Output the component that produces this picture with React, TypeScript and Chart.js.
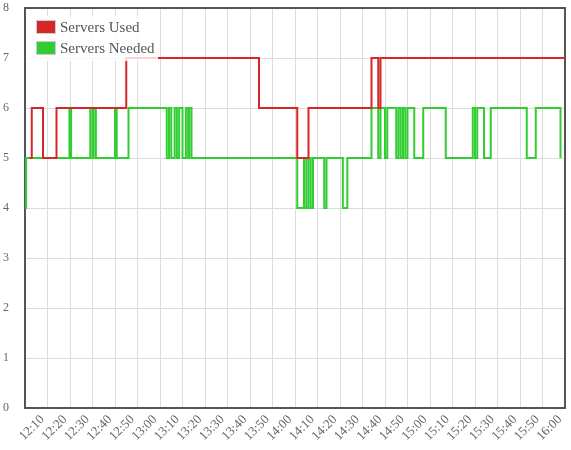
import React, { useEffect, useRef } from 'react';
import { Chart, registerables } from 'chart.js';

Chart.register(...registerables);

// Tick labels on the time axis (12:00 gridline has no label)
const xTickLabels = [
  '12:10', '12:20', '12:30', '12:40', '12:50', '13:00', '13:10', '13:20', '13:30', '13:40', '13:50', '14:00',
  '14:10', '14:20', '14:30', '14:40', '14:50', '15:00', '15:10', '15:20', '15:30', '15:40', '15:50', '16:00',
];
const yTickValues = [0, 1, 2, 3, 4, 5, 6, 7, 8];

// Servers Used: change points (time, value)
const usedTimes = ['12:02', '12:03', '12:08', '12:14', '12:45', '13:44', '14:01', '14:06', '14:34', '14:37', '14:38', '16:00'];
const usedValues = [5, 6, 5, 6, 7, 6, 5, 6, 7, 6, 7, 7];

// Servers Needed: change points (time, value)
const neededTimes = [
  '12:00', '12:00:30', '12:19:45', '12:20:30', '12:29', '12:30', '12:30:30', '12:31:30', '12:40', '12:40:45',
  '12:46', '13:03', '13:04', '13:05', '13:06:30', '13:07:30', '13:08:30', '13:10', '13:11:30', '13:12:30',
  '13:13', '13:14', '14:01', '14:04', '14:05', '14:06', '14:07', '14:08', '14:13', '14:14',
  '14:21:15', '14:23:15', '14:34', '14:37', '14:38', '14:40', '14:41', '14:45', '14:46', '14:47',
  '14:48', '14:49', '14:50', '14:53', '14:57', '15:07', '15:19', '15:20', '15:21', '15:24',
  '15:27', '15:43', '15:47', '15:58',
];
const neededValues = [
  4, 5, 6, 5, 6, 5, 6, 5, 6, 5,
  6, 5, 6, 5, 6, 5, 6, 5, 6, 5,
  6, 5, 4, 5, 4, 5, 4, 5, 4, 5,
  4, 5, 6, 5, 6, 5, 6, 5, 6, 5,
  6, 5, 6, 5, 6, 5, 6, 5, 6, 5,
  6, 5, 6, 5,
];

const seriesNames = ['Servers Used', 'Servers Needed'];
const seriesColors = ['#d62728', '#32cd32'];

const toMin = (t: string) => {
  const [h, m, s] = t.split(':').map(Number);
  return (h - 12) * 60 + m + (s || 0) / 60;
};

const FONT = '"Liberation Serif", "Times New Roman", serif';

const zeroPad = (scale: any) => {
  scale.paddingTop = 0;
  scale.paddingBottom = 0;
  scale.paddingLeft = 0;
  scale.paddingRight = 0;
};

const framePlugin = {
  id: 'frame',
  beforeDatasetsDraw(chart: any) {
    const { ctx, chartArea: a } = chart;
    ctx.save();
    ctx.strokeStyle = '#555';
    ctx.lineWidth = 2;
    ctx.strokeRect(a.left, a.top, a.right - a.left, a.bottom - a.top);
    ctx.restore();
  },
};

const legendPlugin = {
  id: 'insideLegend',
  afterDraw(chart: any) {
    const { ctx, chartArea: a } = chart;
    ctx.save();
    ctx.fillStyle = 'rgba(255,255,255,0.8)';
    ctx.fillRect(a.left + 1, a.top + 8, 132, 45);
    ctx.font = `15px ${FONT}`;
    ctx.textBaseline = 'middle';
    chart.data.datasets.forEach((ds: any, i: number) => {
      const y = a.top + 13 + i * 21;
      ctx.strokeStyle = '#ccc';
      ctx.lineWidth = 1;
      ctx.strokeRect(a.left + 11.5, y - 0.5, 19, 13);
      ctx.fillStyle = ds.borderColor;
      ctx.fillRect(a.left + 12, y, 18, 12);
      ctx.fillStyle = '#555';
      ctx.fillText(ds.label, a.left + 35, y + 7);
    });
    ctx.restore();
  },
};

export default function App() {
  const ref = useRef<HTMLCanvasElement | null>(null);
  useEffect(() => {
    if (!ref.current) return;
    const chart = new Chart(ref.current, {
      type: 'line',
      data: {
        datasets: [
          {
            label: seriesNames[0],
            data: usedTimes.map((t, i) => ({ x: toMin(t), y: usedValues[i] })),
            borderColor: seriesColors[0],
            backgroundColor: seriesColors[0],
            borderWidth: 2,
            pointRadius: 0,
            stepped: true,
            fill: false,
          },
          {
            label: seriesNames[1],
            data: neededTimes.map((t, i) => ({ x: toMin(t), y: neededValues[i] })),
            borderColor: seriesColors[1],
            backgroundColor: seriesColors[1],
            borderWidth: 2,
            pointRadius: 0,
            stepped: true,
            fill: false,
          },
        ],
      },
      options: {
        animation: false,
        responsive: false,
        devicePixelRatio: 1,
        layout: { padding: { top: 8, right: 6, bottom: 0, left: 0 } },
        plugins: { legend: { display: false }, tooltip: { enabled: false } },
        scales: {
          x: {
            type: 'linear',
            min: 0,
            max: 240,
            afterBuildTicks: (scale: any) => {
              scale.ticks = [0, ...xTickLabels.map(toMin)].map((v) => ({ value: v }));
            },
            afterFit: (scale: any) => {
              scale.height = 42;
              zeroPad(scale);
            },
            grid: { color: '#dcdcdc', drawTicks: false },
            border: { display: false },
            ticks: {
              autoSkip: false,
              minRotation: 45,
              maxRotation: 45,
              padding: 4,
              labelOffset: -5,
              color: '#666',
              font: { family: FONT, size: 13 },
              callback: (value: any) => {
                const l = xTickLabels.find((s) => Math.abs(toMin(s) - value) < 1e-6);
                return l || '';
              },
            },
          },
          y: {
            min: 0,
            max: 8,
            afterBuildTicks: (scale: any) => {
              scale.ticks = yTickValues.map((v) => ({ value: v }));
            },
            afterFit: (scale: any) => {
              scale.width = 25;
              zeroPad(scale);
            },
            grid: { color: '#dcdcdc', drawTicks: false },
            border: { display: false },
            ticks: {
              padding: 16,
              color: '#666',
              font: { family: FONT, size: 12 },
            },
          },
        },
      },
      plugins: [framePlugin, legendPlugin],
    });
    return () => chart.destroy();
  }, []);
  return (
    <div style={{ position: 'absolute', left: 0, top: 0, width: 571, height: 450 }}>
      <canvas ref={ref} width={571} height={450} />
    </div>
  );
}
